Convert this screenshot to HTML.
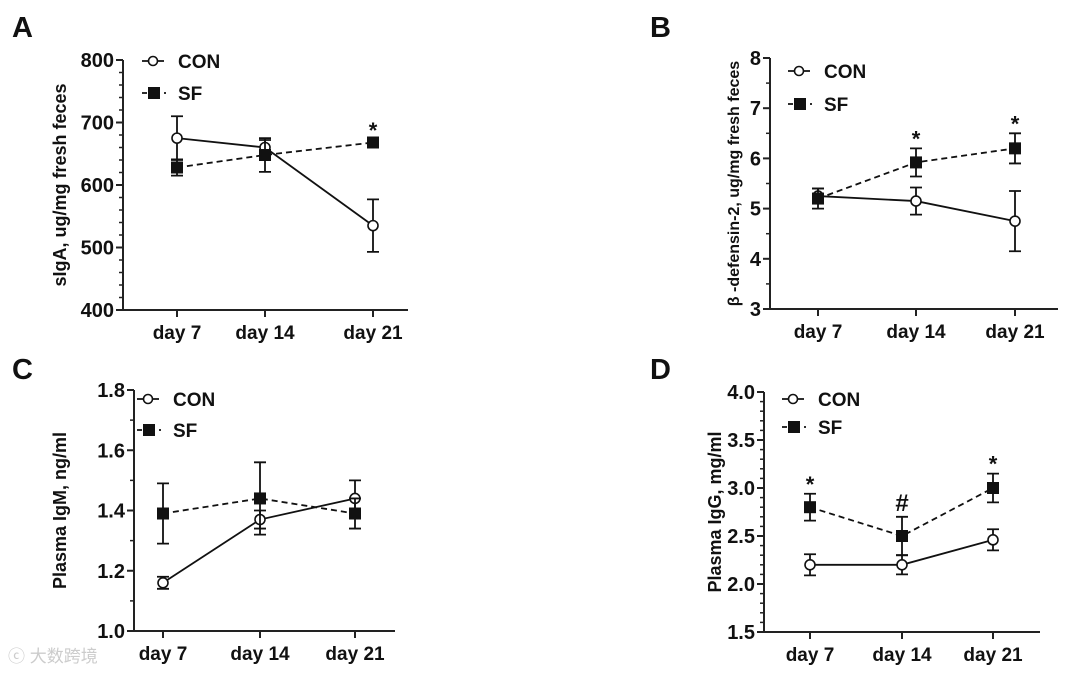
<!DOCTYPE html>
<html><head><meta charset="utf-8"><style>
body{margin:0;background:#fff;width:1080px;height:674px;overflow:hidden}
svg text{font-family:"Liberation Sans",Arial,sans-serif;font-weight:bold;fill:#111}
</style></head><body>
<svg id="fig" width="1080" height="674" xmlns="http://www.w3.org/2000/svg">
<text x="12" y="37" font-size="29">A</text>
<text x="650" y="37" font-size="29">B</text>
<text x="12" y="379" font-size="29">C</text>
<text x="650" y="379" font-size="29">D</text>
<text x="8" y="662" font-size="17" style="fill:#ccc;font-family:'Liberation Sans','Noto Sans CJK SC',sans-serif;font-weight:normal">ⓒ 大数跨境</text>
</svg>
<script>
const categories = ["day 7","day 14","day 21"];
const aCon = [675,660,535], aConErr = [35,12,42], aSf = [628,648,668], aSfErr = [13,27,4];
const bCon = [5.25,5.15,4.75], bConErr = [0.15,0.27,0.6], bSf = [5.2,5.92,6.2], bSfErr = [0.2,0.28,0.3];
const cCon = [1.16,1.37,1.44], cConErr = [0.02,0.03,0.06], cSf = [1.39,1.44,1.39], cSfErr = [0.1,0.12,0.05];
const dCon = [2.2,2.2,2.46], dConErr = [0.11,0.1,0.11], dSf = [2.8,2.5,3.0], dSfErr = [0.14,0.2,0.15];
const aTicks = ["400","500","600","700","800"], bTicks = ["3","4","5","6","7","8"];
const cTicks = ["1.0","1.2","1.4","1.6","1.8"], dTicks = ["1.5","2.0","2.5","3.0","3.5","4.0"];
const aMarks = ["","","*"], bMarks = ["","*","*"], cMarks = ["","",""], dMarks = ["*","#","*"];
const NS="http://www.w3.org/2000/svg", svg=document.getElementById('fig');
function mk(tag,attrs,parent){const e=document.createElementNS(NS,tag);for(const k in attrs)e.setAttribute(k,attrs[k]);(parent||svg).appendChild(e);return e;}
function panel(id,cfg){
  const g=mk('g',{});
  
  
  const t0=parseFloat(cfg.ticks[0]), t1=parseFloat(cfg.ticks[cfg.ticks.length-1]);
  const y=v=>cfg.yb-(v-t0)/(t1-t0)*(cfg.yb-cfg.yt);
  const x=i=>cfg.xs[i];
  const ax=mk('path',{d:`M${cfg.xa},${cfg.yt}V${cfg.yb}H${cfg.xe}`,stroke:'#222','stroke-width':2,fill:'none'},g);
  
  
  const nT=cfg.ticks.length, step=(t1-t0)/(nT-1), minor=cfg.minor;
  for(let i=0;i<nT;i++){
    const v=t0+i*step;
    mk('line',{x1:cfg.xa-7,x2:cfg.xa,y1:y(v),y2:y(v),stroke:'#222','stroke-width':2},g);
    const tl=mk('text',{x:cfg.xa-9,y:y(v)+7,'font-size':20,'text-anchor':'end'},g);
    tl.textContent=cfg.ticks[i];
    
    
    if(i<nT-1) for(let m=1;m<minor;m++){const vv=v+step*m/minor;mk('line',{x1:cfg.xa-4,x2:cfg.xa,y1:y(vv),y2:y(vv),stroke:'#222','stroke-width':1.5},g);}
  }
  categories.forEach((c,i)=>{
    mk('line',{x1:x(i),x2:x(i),y1:cfg.yb,y2:cfg.yb+7,stroke:'#222','stroke-width':2},g);
    const tl=mk('text',{x:x(i),y:cfg.yb+29,'font-size':19,'text-anchor':'middle'},g);
    tl.textContent=c;
    
    
  });
  const yt=mk('text',{transform:`translate(${cfg.tx},${(cfg.yt+cfg.yb)/2}) rotate(-90)`,'font-size':cfg.tfs||18,'text-anchor':'middle'},g);
  yt.textContent=cfg.title;
  
  
  function series(vals,errs,name,dash,filled){
    const sg=mk('g',{},g);
    
    
    mk('polyline',{points:vals.map((v,i)=>x(i)+','+y(v)).join(' '),fill:'none',stroke:'#111','stroke-width':1.8,'stroke-dasharray':dash},sg);
    vals.forEach((v,i)=>{
      const hi=y(v+errs[i]),lo=y(v-errs[i]);
      mk('path',{d:`M${x(i)},${hi}V${lo}M${x(i)-6},${hi}h12M${x(i)-6},${lo}h12`,stroke:'#111','stroke-width':1.8,fill:'none'},sg);
      let p;
      if(filled) p=mk('rect',{x:x(i)-6,y:y(v)-6,width:12,height:12,fill:'#111'},sg);
      else p=mk('circle',{cx:x(i),cy:y(v),r:5,fill:'#fff',stroke:'#111','stroke-width':1.6},sg);
      
      
    });
  }
  series(cfg.con,cfg.conE,'con','none',false);
  series(cfg.sf,cfg.sfE,'sf','6,4',true);
  cfg.marks.forEach((m,i)=>{ if(!m)return;
    const top=Math.min(y(cfg.sf[i]+cfg.sfE[i]),y(cfg.con[i]+cfg.conE[i]));
    const t=mk('text',{x:x(i),y:m=='*'?top-2:top-6,'font-size':m=='*'?22:24,'text-anchor':'middle'},g);
    t.textContent=m;
    
    
  });
  const lg=mk('g',{},g);
  
  
  const lx=cfg.lx, ly=cfg.ly;
  mk('line',{x1:lx,x2:lx+22,y1:ly,y2:ly,stroke:'#111','stroke-width':1.8},lg);
  mk('circle',{cx:lx+11,cy:ly,r:4.5,fill:'#fff',stroke:'#111','stroke-width':1.6},lg);
  let t=mk('text',{x:lx+36,y:ly+7,'font-size':19},lg); t.textContent='CON';
   
  mk('line',{x1:lx,x2:lx+24,y1:ly+cfg.lg,y2:ly+cfg.lg,stroke:'#111','stroke-width':1.8,'stroke-dasharray':'5,6'},lg);
  mk('rect',{x:lx+6,y:ly+cfg.lg-6,width:12,height:12,fill:'#111'},lg);
  t=mk('text',{x:lx+36,y:ly+cfg.lg+7,'font-size':19},lg); t.textContent='SF';
   
}
panel('a',{xa:123,xe:408,yt:60,yb:310,xs:[177,265,373],ticks:aTicks,minor:5,title:'sIgA, ug/mg fresh feces',tx:66,tfs:18,con:aCon,conE:aConErr,sf:aSf,sfE:aSfErr,marks:aMarks,lx:142,ly:61,lg:32});
panel('b',{xa:770,xe:1058,yt:58,yb:309,xs:[818,916,1015],ticks:bTicks,minor:2,title:'β -defensin-2, ug/mg fresh feces',tx:739,tfs:16,con:bCon,conE:bConErr,sf:bSf,sfE:bSfErr,marks:bMarks,lx:788,ly:71,lg:33});
panel('c',{xa:134,xe:395,yt:390,yb:631,xs:[163,260,355],ticks:cTicks,minor:2,title:'Plasma IgM, ng/ml',tx:66,tfs:18,con:cCon,conE:cConErr,sf:cSf,sfE:cSfErr,marks:cMarks,lx:137,ly:399,lg:31});
panel('d',{xa:764,xe:1040,yt:392,yb:632,xs:[810,902,993],ticks:dTicks,minor:5,title:'Plasma IgG, mg/ml',tx:721,tfs:18,con:dCon,conE:dConErr,sf:dSf,sfE:dSfErr,marks:dMarks,lx:782,ly:399,lg:28});
</script>
</body></html>
